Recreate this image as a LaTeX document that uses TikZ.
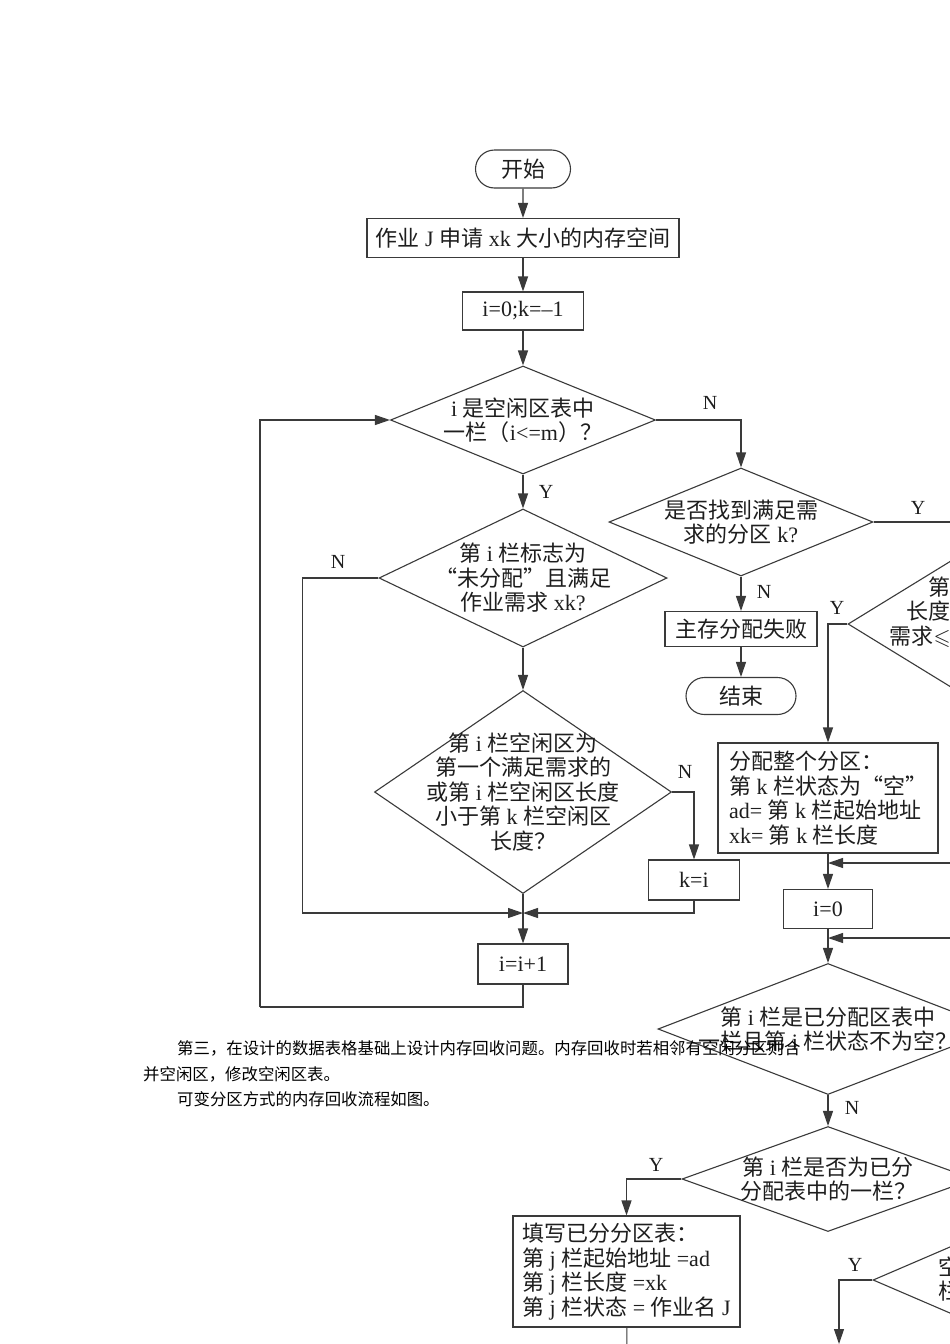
\documentclass[tikz,border=0pt]{standalone}
\usepackage{amssymb}
\usepackage{fontspec}
\setmainfont{Liberation Serif}
\newfontfamily\cjk{Noto Sans CJK SC}
\newcommand{\zh}[1]{{\cjk #1}}
\usetikzlibrary{arrows.meta, positioning, calc, shapes.geometric, shapes.misc}
\definecolor{inkgray}{HTML}{3A3A3A}
\definecolor{textblack}{HTML}{1E1E1E}

\begin{document}
\begin{tikzpicture}[x=1pt, y=-1pt,
    base/.style={draw=inkgray, line width=1.1pt, text=textblack, font=\fontsize{22}{24.5}\selectfont},
    term/.style={base, rounded rectangle, minimum width=95pt, minimum height=38pt, inner sep=0pt},
    proc/.style={base, rectangle, minimum height=39pt, inner sep=0pt},
    note/.style={base, rectangle, align=left, inner sep=0pt},
    decide/.style={base, diamond, inner sep=0pt},
    dtext/.style={text=textblack, font=\fontsize{22}{24.5}\selectfont, align=center},
    yn/.style={text=textblack, font=\fontsize{20}{20}\selectfont, inner sep=0pt},
    body/.style={text=black, font=\cjk\fontsize{16.4}{25}\selectfont, anchor=west, inner sep=0pt},
    arr/.style={-{Triangle[length=15pt, width=10pt]}, draw=inkgray, line width=1.1pt},
    line/.style={draw=inkgray, line width=1.1pt}
  ]
  \useasboundingbox (0,0) rectangle (950,1344);
  \fill[white] (0,0) rectangle (950,1344);
  \clip (0,0) rectangle (950,1344);

  % allocation: left column
  \node[term] (start) at (523,169) {\zh{开始}};
  \node[proc, minimum width=312pt] (req) at (523,238) {\zh{作业} J \zh{申请} xk \zh{大小的内存空间}};
  \node[proc, minimum width=121pt, minimum height=38pt] (init) at (523,311) {i=0;k=--1};
  \node[decide, minimum width=265pt, minimum height=108pt,
    label={[dtext]center:{i \zh{是空闲区表中}\\\zh{一栏（}i<=m\zh{）？}}}] (d1) at (523,420) {};
  \node[decide, minimum width=288pt, minimum height=138pt,
    label={[dtext]center:{\zh{第} i \zh{栏标志为}\\\zh{“未分配”且满足}\\\zh{作业需求} xk?}}] (d2) at (523,578) {};
  \node[decide, minimum width=297pt, minimum height=203pt,
    label={[dtext]center:{\zh{第} i \zh{栏空闲区为}\\\zh{第一个满足需求的}\\\zh{或第} i \zh{栏空闲区长度}\\\zh{小于第} k \zh{栏空闲区}\\\zh{长度？}}}] (dmin) at (523,792) {};
  \node[proc, minimum width=91pt, minimum height=40pt] (kset) at (694,880) {k=i};
  \node[proc, minimum width=90pt, minimum height=40pt] (inc) at (523,964) {i=i+1};
  \coordinate (merge) at (523,913);
  \coordinate (loopc) at (260,1007);

  % allocation: middle column
  \node[decide, minimum width=264pt, minimum height=108pt,
    label={[dtext]center:{\zh{是否找到满足需}\\\zh{求的分区} k?}}] (dfound) at (741,522) {};
  \node[proc, minimum width=152pt, minimum height=35pt] (fail) at (741,629) {\zh{主存分配失败}};
  \node[term, minimum width=110pt, minimum height=37pt] (end) at (741,696) {\zh{结束}};

  % allocation: right column
  \node[decide, minimum width=254pt, minimum height=156pt] (dlen) at (975,624) {};
  \node[dtext, anchor=east, align=right, inner sep=0pt] (dlentxt) at (951,612) {\zh{第}\\\zh{长度}\\\zh{需求}$\leqslant$};
  \node[note, minimum width=220pt, minimum height=110pt] (alloc) at (828,798)
    {\zh{分配整个分区：}\\\zh{第} k \zh{栏状态为“空”}\\ad= \zh{第} k \zh{栏起始地址}\\xk= \zh{第} k \zh{栏长度}};
  \node[proc, minimum width=89pt] (izero) at (828,909) {i=0};
  \coordinate (join1) at (828,863);
  \coordinate (back1) at (965,863);
  \coordinate (join2) at (828,938);
  \coordinate (back2) at (965,938);
  \node[decide, minimum width=340pt, minimum height=131pt,
    label={[dtext]center:{\zh{第} i \zh{栏是已分配区表中}\\\zh{一栏且第} i \zh{栏状态不为空？}}}] (dtab) at (828,1029) {};
  \node[decide, minimum width=292pt, minimum height=105pt,
    label={[dtext]center:{\zh{第} i \zh{栏是否为已分}\\\zh{分配表中的一栏？}}}] (dalloc) at (828,1179) {};
  \node[note, minimum width=227pt, minimum height=111pt] (fill) at (626.5,1271.5)
    {\zh{填写已分分区表：}\\\zh{第} j \zh{栏起始地址} =ad\\\zh{第} j \zh{栏长度} =xk\\\zh{第} j \zh{栏状态} = \zh{作业名} J};
  \coordinate (fillout) at (627,1360);
  \node[decide, minimum width=204pt, minimum height=88pt] (dfree) at (975,1280) {};
  \node[dtext, anchor=west, inner sep=0pt] (dfreetxt) at (938,1279) {\zh{空}\\\zh{栏}};
  \coordinate (dfreeout) at (839,1344);

  % connectors
  \draw[arr] (start) -- (req);
  \draw[arr] (req) -- (init);
  \draw[arr] (init) -- (d1);
  \draw[arr] (d1.south) -- (d2.north);
  \draw[arr] (d2.south) -- (dmin.north);
  \draw[arr] (dmin.south) -- (inc.north);
  \draw[arr] (d2.west) -- ++(-76,0) |- (merge);
  \draw[arr] (dmin.east) -| (kset.north);
  \draw[arr] (kset.south) |- (merge);
  \draw[line] (inc.south) |- (loopc);
  \draw[arr] (loopc) |- (d1.west);
  \draw[arr] (d1.east) -| (dfound.north);
  \draw[arr] (dfound.south) -- (fail);
  \draw[arr] (fail) -- (end);
  \draw[arr] (dfound.east) -| (dlen.north);
  \draw[arr] (dlen.west) -| (alloc.north);
  \draw[arr] (alloc) -- (izero);
  \draw[arr] (back1) -- (join1);
  \draw[arr] (izero) -- (dtab);
  \draw[arr] (back2) -- (join2);
  \draw[arr] (dtab) -- (dalloc);
  \draw[arr] (dalloc.west) -| (fill.north);
  \draw[line] (fill) -- (fillout);
  \draw[arr] (dfree.west) -| (dfreeout);

  % Y / N labels
  \node[yn] (n1) at (710,403) {N};
  \node[yn] (y1) at (546,492) {Y};
  \node[yn] (n2) at (338,562) {N};
  \node[yn] (n3) at (685,772) {N};
  \node[yn] (y2) at (918,508) {Y};
  \node[yn] (n4) at (764,592) {N};
  \node[yn] (y3) at (837,608) {Y};
  \node[yn] (n5) at (852,1108) {N};
  \node[yn] (y4) at (656,1165) {Y};
  \node[yn] (y5) at (855,1265) {Y};

  % body text
  \node[body] (body1) at (177,1048) {第三，在设计的数据表格基础上设计内存回收问题。内存回收时若相邻有空闲分区则合};
  \node[body] (body2) at (143,1074) {并空闲区，修改空闲区表。};
  \node[body] (body3) at (177,1099) {可变分区方式的内存回收流程如图。};
\end{tikzpicture}
\end{document}
